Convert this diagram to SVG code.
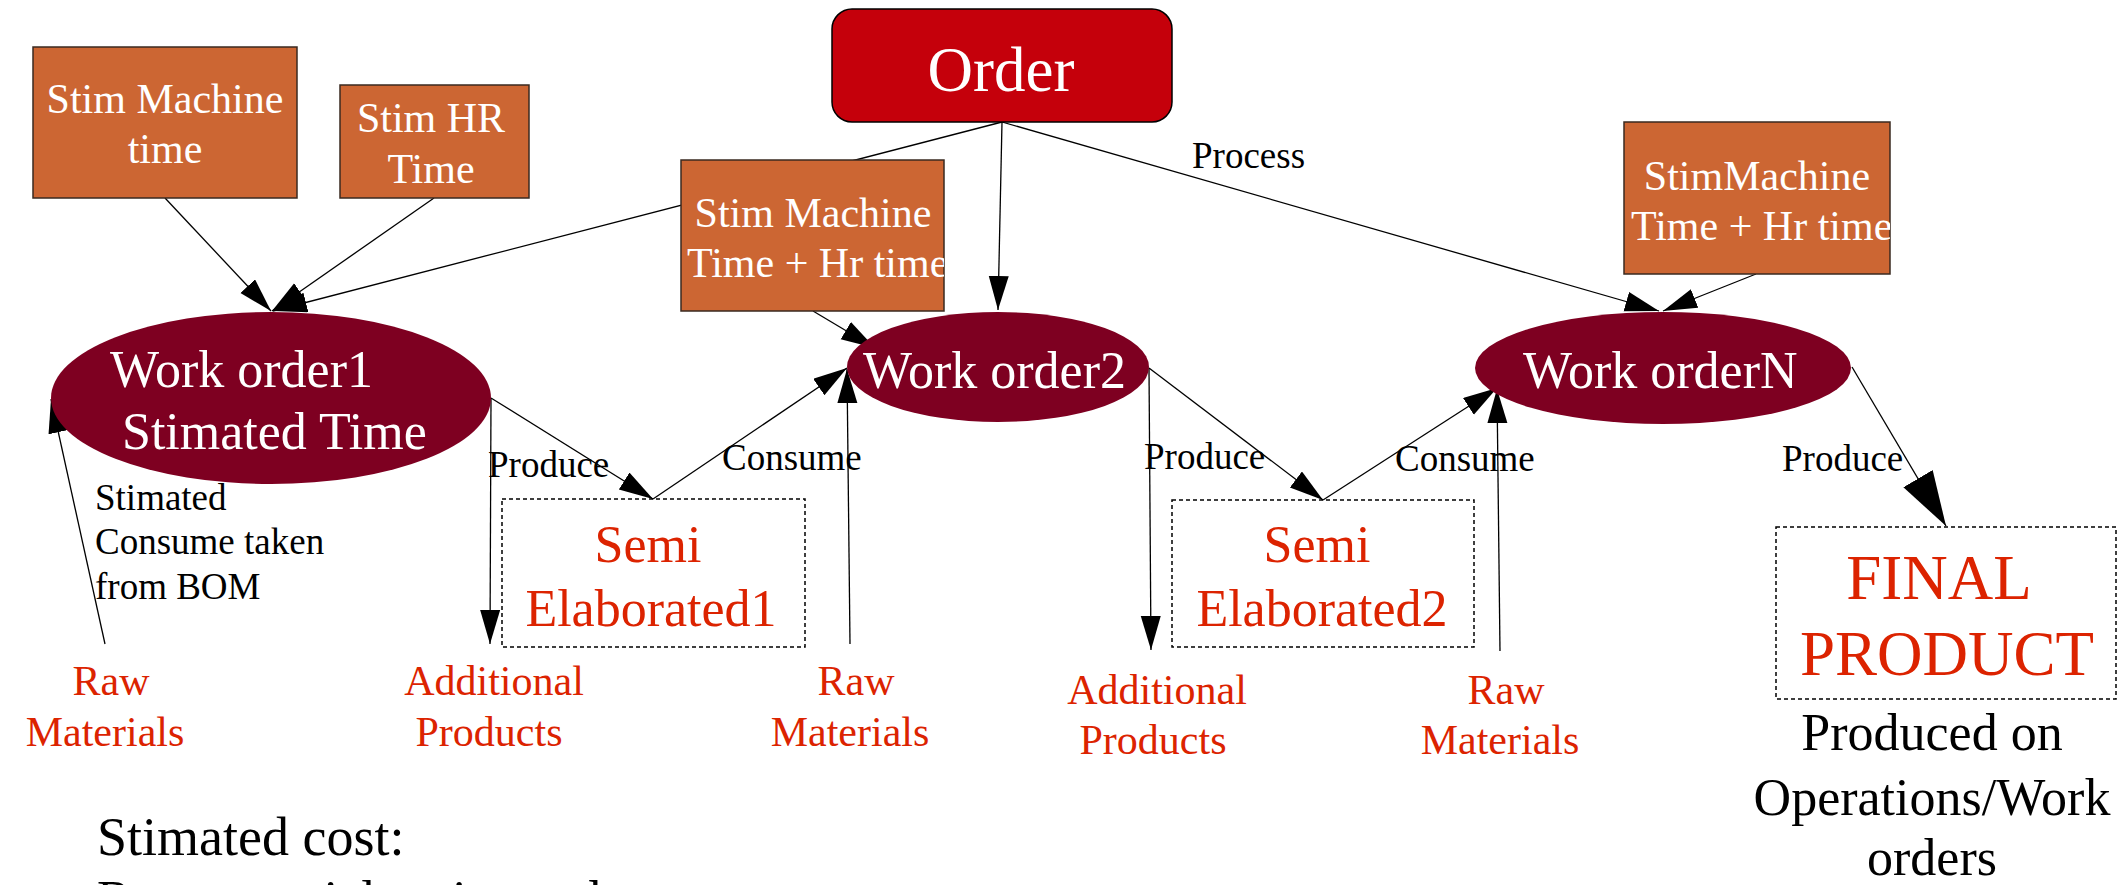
<svg xmlns="http://www.w3.org/2000/svg" width="2127" height="885" viewBox="0 0 2127 885">
<style>
text{font-family:"Liberation Serif","Times New Roman",serif}
.box{fill:#cc6633;stroke:#3a2a20;stroke-width:1.5}
.bt{fill:#fff;font-size:42px;text-anchor:middle}
.wo{fill:#7e0021}
.wt{fill:#fff;font-size:52px}
.lbl{fill:#000;font-size:37px}
.red{fill:#dc2300;font-size:42px;text-anchor:middle}
.semi{fill:#dc2300;font-size:52px;text-anchor:middle}
.dash{fill:none;stroke:#000;stroke-width:1.5;stroke-dasharray:4 3}
.ln{stroke:#000;stroke-width:1.3;fill:none;marker-end:url(#ah)}
.ln2{stroke:#000;stroke-width:1.3;fill:none;marker-end:url(#ahb)}
.blk{fill:#000}
</style>
<defs>
<marker id="ah" markerUnits="userSpaceOnUse" markerWidth="36" markerHeight="22" refX="34" refY="10" orient="auto"><path d="M0,0 L34,10 L0,20 z" fill="#000"/></marker>
<marker id="ahb" markerUnits="userSpaceOnUse" markerWidth="57" markerHeight="36" refX="55" refY="17" orient="auto"><path d="M0,0 L55,17 L0,34 z" fill="#000"/></marker>
<clipPath id="clipC"><rect x="681" y="160" width="263" height="151"/></clipPath>
<clipPath id="clipD"><rect x="1624" y="122" width="266" height="152"/></clipPath>
</defs>
<rect width="2127" height="885" fill="#fff"/>

<g id="connectors">
<line class="ln" x1="165" y1="198" x2="271" y2="311"/>
<line class="ln" x1="434" y1="198" x2="272" y2="311"/>
<line class="ln" x1="1002" y1="122" x2="273" y2="311"/>
<line class="ln" x1="1002" y1="122" x2="998" y2="310"/>
<line class="ln" x1="1002" y1="122" x2="1659" y2="311"/>
<line class="ln" x1="813" y1="311" x2="875" y2="348"/>
<line class="ln" x1="491" y1="398" x2="653" y2="499"/>
<line class="ln" x1="491" y1="398" x2="490" y2="644"/>
<line class="ln" x1="105" y1="644" x2="51" y2="399"/>
<line class="ln" x1="653" y1="499" x2="847" y2="368"/>
<line class="ln" x1="850" y1="644" x2="847" y2="369"/>
<line class="ln" x1="1149" y1="368" x2="1323" y2="500"/>
<line class="ln" x1="1149" y1="368" x2="1151" y2="650"/>
<line class="ln" x1="1323" y1="500" x2="1497" y2="388"/>
<line class="ln" x1="1500" y1="651" x2="1497" y2="389"/>
<line class="ln" x1="1756" y1="274" x2="1663" y2="311"/>
<line class="ln2" x1="1852" y1="367" x2="1946" y2="526"/>
<text class="lbl" x="1192" y="168">Process</text>
<text class="lbl" x="488" y="477">Produce</text>
<text class="lbl" x="722" y="470">Consume</text>
<text class="lbl" x="1144" y="469">Produce</text>
<text class="lbl" x="1395" y="471">Consume</text>
<text class="lbl" x="1782" y="471">Produce</text>
<text class="lbl" x="95" y="510">Stimated</text>
<text class="lbl" x="95" y="554">Consume taken</text>
<text class="lbl" x="95" y="599">from BOM</text>
</g>

<g id="order">
<rect x="832" y="9" width="340" height="113" rx="20" ry="20" fill="#c5000b" stroke="#000" stroke-width="1.5"/>
<text x="1001" y="91" fill="#fff" font-size="63" text-anchor="middle">Order</text>
</g>

<g id="stim-machine-time">
<rect class="box" x="33" y="47" width="264" height="151"/>
<text class="bt" x="165" y="113">Stim Machine</text>
<text class="bt" x="165" y="163">time</text>
</g>

<g id="stim-hr-time">
<rect class="box" x="340" y="85" width="189" height="113"/>
<text class="bt" x="431" y="132">Stim HR</text>
<text class="bt" x="431" y="183">Time</text>
</g>

<g id="stim-machine-hr-2">
<rect class="box" x="681" y="160" width="263" height="151"/>
<g clip-path="url(#clipC)">
<text class="bt" x="813" y="227">Stim Machine</text>
<text class="bt" x="687" y="277" style="text-anchor:start">Time + Hr time</text>
</g>
</g>

<g id="stim-machine-hr-n">
<rect class="box" x="1624" y="122" width="266" height="152"/>
<g clip-path="url(#clipD)">
<text class="bt" x="1757" y="190">StimMachine</text>
<text class="bt" x="1631" y="240" style="text-anchor:start">Time + Hr time</text>
</g>
</g>

<g id="work-order1">
<ellipse class="wo" cx="271" cy="398" rx="220" ry="86"/>
<text class="wt" x="110" y="387">Work order1</text>
<text class="wt" x="122" y="449">Stimated Time</text>
</g>

<g id="work-order2">
<ellipse class="wo" cx="998" cy="367" rx="151" ry="55"/>
<text class="wt" x="863" y="388">Work order2</text>
</g>

<g id="work-orderN">
<ellipse class="wo" cx="1663" cy="368" rx="188" ry="56"/>
<text class="wt" x="1523" y="388">Work orderN</text>
</g>

<g id="semi1">
<rect class="dash" x="502" y="499" width="303" height="148"/>
<text class="semi" x="648" y="562">Semi</text>
<text class="semi" x="651" y="626">Elaborated1</text>
</g>

<g id="semi2">
<rect class="dash" x="1172" y="500" width="302" height="147"/>
<text class="semi" x="1317" y="562">Semi</text>
<text class="semi" x="1322" y="626">Elaborated2</text>
</g>

<g id="final-product">
<rect class="dash" x="1776" y="527" width="340" height="172"/>
<text x="1939" y="599" fill="#dc2300" font-size="63" text-anchor="middle">FINAL</text>
<text x="1947" y="675" fill="#dc2300" font-size="63" text-anchor="middle">PRODUCT</text>
</g>

<g id="raw1">
<text class="red" x="111" y="695">Raw</text>
<text class="red" x="105" y="746">Materials</text>
</g>
<g id="additional1">
<text class="red" x="494" y="695">Additional</text>
<text class="red" x="489" y="746">Products</text>
</g>
<g id="raw2">
<text class="red" x="856" y="695">Raw</text>
<text class="red" x="850" y="746">Materials</text>
</g>
<g id="additional2">
<text class="red" x="1157" y="704">Additional</text>
<text class="red" x="1153" y="754">Products</text>
</g>
<g id="raw3">
<text class="red" x="1506" y="704">Raw</text>
<text class="red" x="1500" y="754">Materials</text>
</g>

<g id="produced-note">
<text x="1932" y="750" font-size="52" text-anchor="middle" fill="#000">Produced on</text>
<text x="1932" y="815" font-size="52" text-anchor="middle" fill="#000">Operations/Work</text>
<text x="1932" y="875" font-size="52" text-anchor="middle" fill="#000">orders</text>
</g>

<g id="cost-note">
<text x="97" y="855" font-size="54" fill="#000">Stimated cost:</text>
<text x="97" y="917" font-size="52" fill="#000">Raw materials price and</text>
</g>
</svg>
